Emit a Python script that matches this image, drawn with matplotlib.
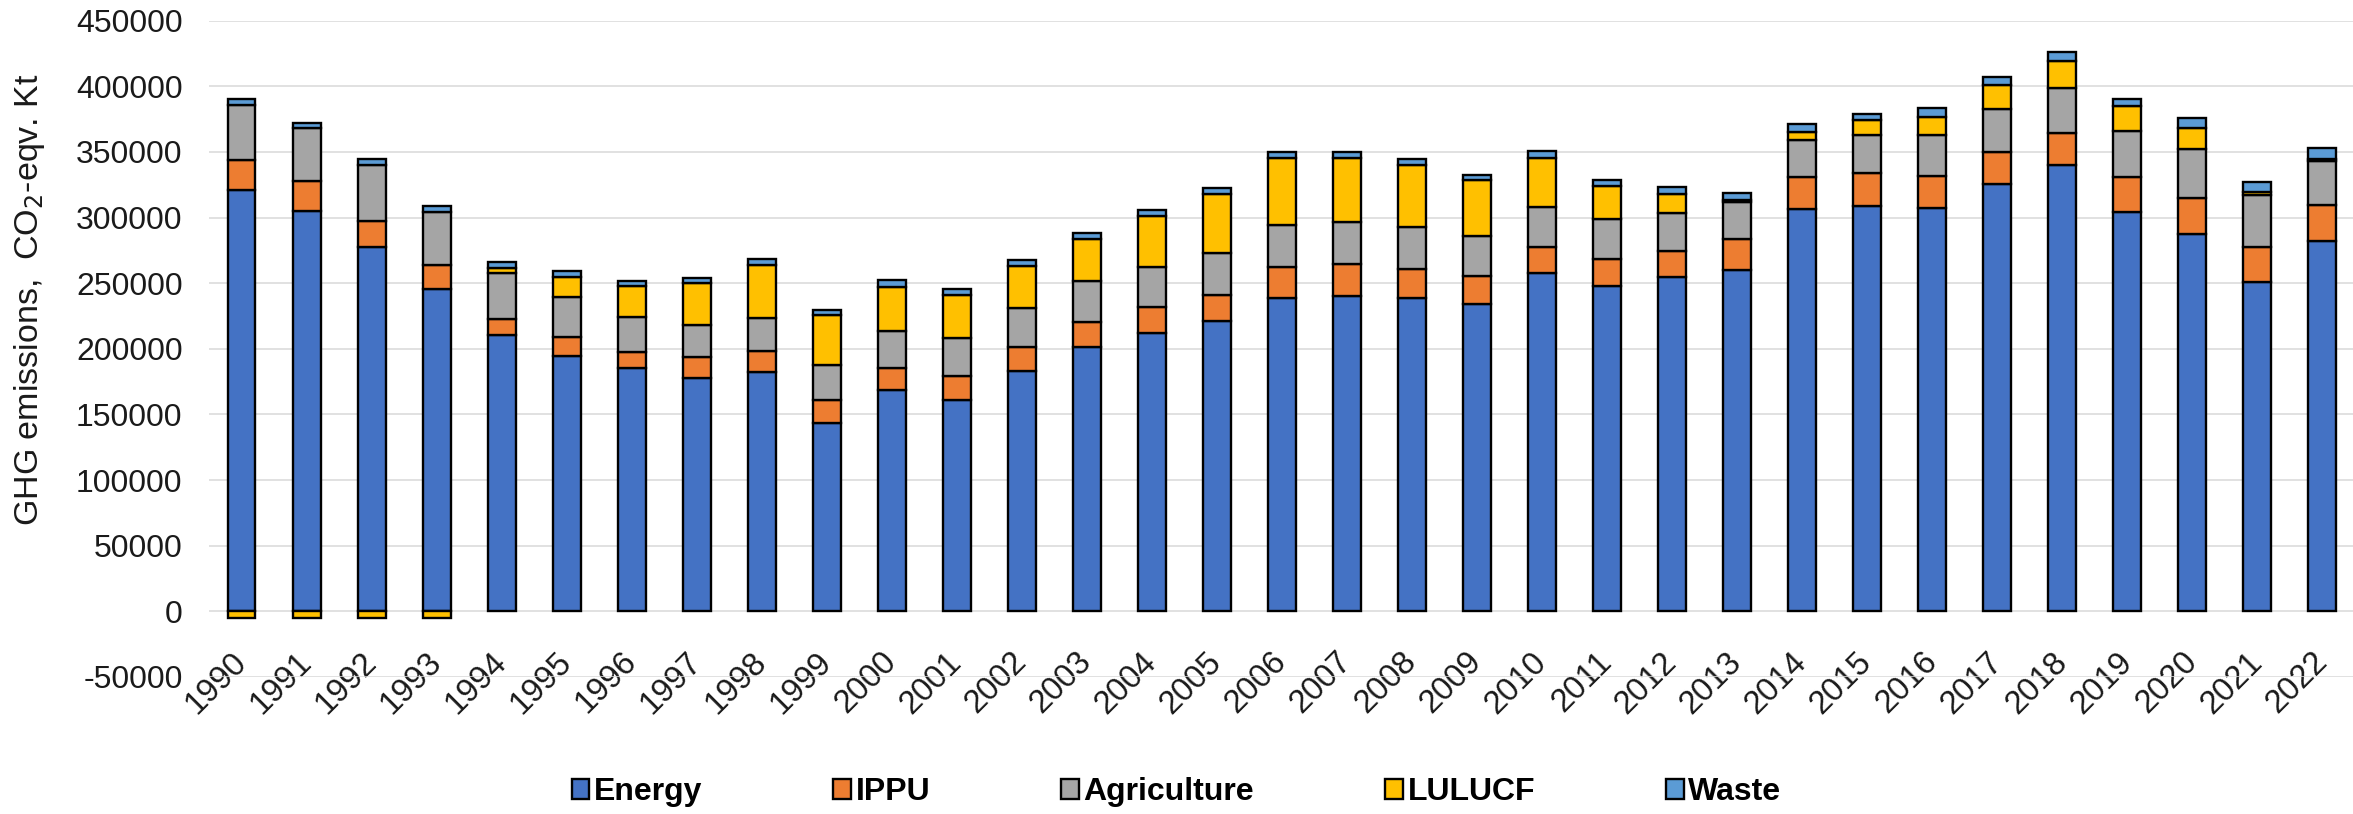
import matplotlib
matplotlib.use("Agg")
import matplotlib.pyplot as plt
import numpy as np
from matplotlib.patches import Patch

plt.rcParams['font.family'] = ['Liberation Sans', 'DejaVu Sans']

years = [str(y) for y in range(1990, 2023)]
energy = [321300, 305400, 277900, 245900, 210900, 194900, 185400, 177500, 182000, 143700,
          168500, 160900, 182800, 201100, 212200, 221000, 239000, 240500, 238900, 234200,
          257500, 248100, 254400, 260100, 306800, 308500, 307100, 325500, 340100, 304400,
          287400, 251000, 282300]
ippu = [22200, 22100, 19700, 17700, 11900, 14300, 11900, 16400, 16000, 17500,
        16600, 18400, 18300, 19600, 19500, 20400, 23500, 24300, 22100, 21100,
        19900, 20500, 20500, 23700, 24400, 25500, 24500, 24100, 24500, 26200,
        27200, 26900, 27200]
agriculture = [42500, 40500, 42500, 40800, 34700, 30600, 27200, 24500, 25500, 26800,
               28600, 29100, 29800, 30900, 30700, 31700, 32100, 32200, 32200, 30700,
               31000, 30000, 28500, 27800, 27800, 28900, 31300, 33000, 34000, 35000,
               37400, 39100, 33300]
lulucf = [-5000, -5000, -5000, -5000, 4400, 14600, 23100, 31600, 40500, 37900,
          33500, 33000, 32300, 32000, 38700, 44600, 50800, 48400, 46500, 42600,
          37000, 25300, 14200, 1500, 6300, 11200, 13900, 18700, 20700, 19400,
          16300, 2500, 2000]
waste = [4400, 4400, 4400, 4400, 4100, 4800, 4100, 4100, 4400, 3800,
         4900, 4300, 4700, 5000, 4400, 5000, 4700, 4700, 5100, 4100,
         5600, 4700, 5700, 6000, 6300, 5100, 6500, 6100, 6500, 5400,
         7500, 7800, 8200]

series = [("Energy", energy, "#4472C4"),
          ("IPPU", ippu, "#ED7D31"),
          ("Agriculture", agriculture, "#A5A5A5"),
          ("LULUCF", lulucf, "#FFC000"),
          ("Waste", waste, "#5B9BD5")]

W, H = 2353, 814
fig = plt.figure(figsize=(W / 100, H / 100), dpi=100)
ax = fig.add_axes([209 / W, (H - 677) / H, (W - 209) / W, (677 - 20.7) / H])

x = np.arange(len(years))
pos_base = np.zeros(len(years))
neg_base = np.zeros(len(years))
for name, vals, col in series:
    v = np.array(vals, dtype=float)
    bottoms = np.where(v >= 0, pos_base, neg_base)
    ax.bar(x, v, width=0.43, bottom=bottoms, color=col, edgecolor="black",
           linewidth=1.7, zorder=3)
    pos_base = pos_base + np.where(v >= 0, v, 0)
    neg_base = neg_base + np.where(v < 0, v, 0)

ax.spines['bottom'].set_position(('data', 0))
for s in ax.spines.values():
    s.set_visible(False)

ax.set_xlim(-0.5, 32.47)
ax.set_ylim(-50000, 450000)
yt = list(range(-50000, 450001, 50000))
ax.set_yticks(yt)
ax.set_yticklabels([str(v) for v in yt], fontsize=23, color="#1a1a1a")
ax.yaxis.grid(True, color="#d9d9d9", linewidth=1.1, zorder=0)
ax.set_axisbelow(True)

ax.set_xticks(x)
ax.set_xticklabels(years, rotation=45, ha="right", va="center",
                   rotation_mode="anchor", fontsize=23.5, color="#1a1a1a")
ax.tick_params(axis='both', length=0)
ax.tick_params(axis='y', pad=19)
ax.tick_params(axis='x', pad=33)

fig.text(30 / W, 1 - 300 / H, "GHG emissions,  CO$_2$-eqv. Kt", rotation=90,
         ha="center", va="center", fontsize=24.5, color="#1a1a1a")

handles = [Patch(facecolor=c, edgecolor="black", linewidth=1.7, label=n) for n, _, c in series]
fig.legend(handles=handles, loc="center", bbox_to_anchor=(0.5, 22 / H), ncol=5,
           frameon=False, prop={"weight": "bold", "size": 23},
           handlelength=0.55, handleheight=0.6, handletextpad=0.15, columnspacing=4.1)

fig.savefig("out.png", dpi=100)
